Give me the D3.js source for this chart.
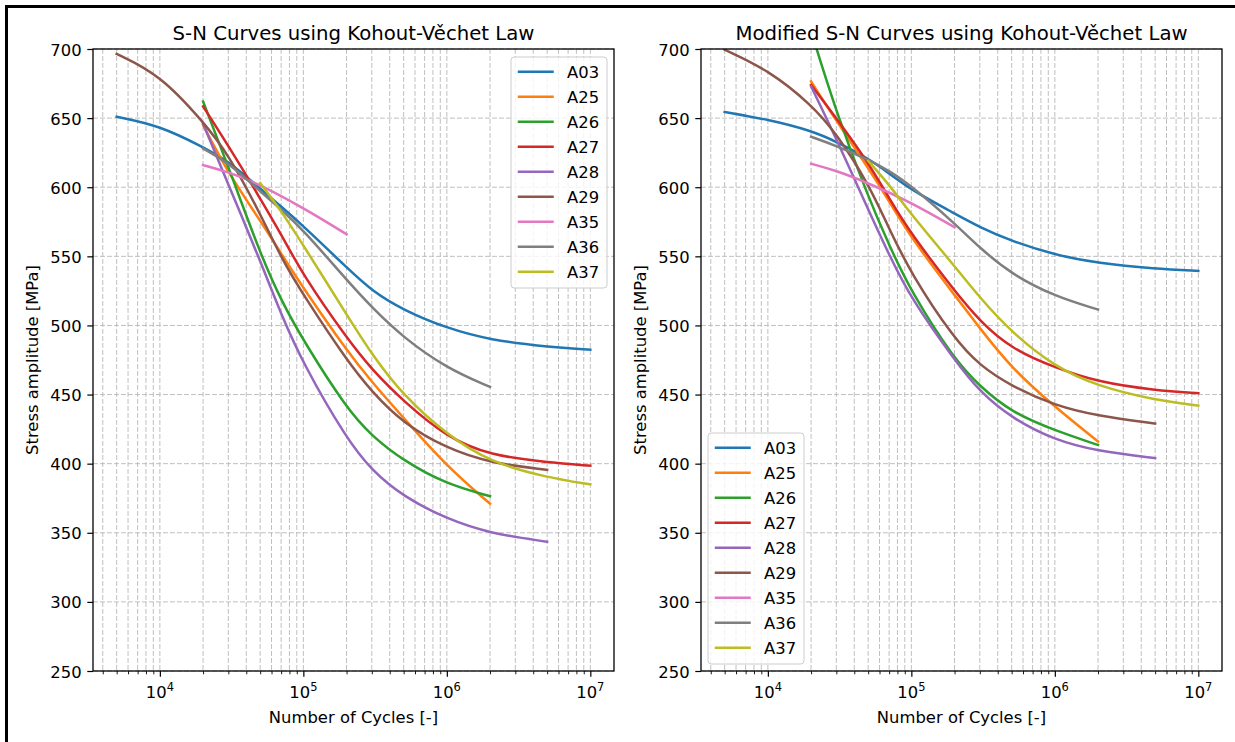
<!DOCTYPE html>
<html><head><meta charset="utf-8">
<script src="https://cdn.jsdelivr.net/npm/d3@7"></script>
<style>
body{margin:0;background:#fff;}
svg{display:block;font-family:"DejaVu Sans",sans-serif;}
</style>
</head><body>
<svg id="chart" width="1235" height="742"></svg>
<script>
// ---------------- data ----------------
const seriesNames = ["A03","A25","A26","A27","A28","A29","A35","A36","A37"];
const seriesColors = ["#1f77b4","#ff7f0e","#2ca02c","#d62728","#9467bd","#8c564b","#e377c2","#7f7f7f","#bcbd22"];
const xTickValues = [1e4, 1e5, 1e6, 1e7];
const xTickExponents = ["4","5","6","7"];
const yTickValues = [250, 300, 350, 400, 450, 500, 550, 600, 650, 700];
const panelTitles = ["S-N Curves using Kohout-Věchet Law", "Modified S-N Curves using Kohout-Věchet Law"];
const xAxisLabel = "Number of Cycles [-]";
const yAxisLabel = "Stress amplitude [MPa]";

// left panel: [cycles, stress amplitude]
const left_A03 = [[5e3,651],[1e4,644.5],[2e4,629],[3e4,619],[5e4,599],[7e4,586],[1e5,572],[2e5,542],[3e5,525],[5e5,511],[1e6,498],[2e6,489.5],[5e6,484.5],[1e7,482.5]];
const left_A25 = [[2e4,645],[3e4,610],[5e4,576],[7e4,552],[1e5,527],[2e5,482],[3e5,459],[5e5,433],[1e6,398],[2e6,371]];
const left_A26 = [[2e4,662],[3e4,615],[5e4,552],[7e4,518],[1e5,489],[2e5,440],[3e5,420],[5e5,402],[1e6,385],[2e6,376.5]];
const left_A27 = [[2e4,658.5],[3e4,630],[5e4,592],[7e4,566],[1e5,536],[2e5,491],[3e5,468],[5e5,445],[1e6,419],[2e6,406],[5e6,401],[1e7,398.5]];
const left_A28 = [[2e4,646],[3e4,602],[5e4,547],[7e4,508],[1e5,472],[2e5,418],[3e5,395],[5e5,376],[1e6,360],[2e6,349.5],[5e6,343.5]];
const left_A29 = [[5e3,696.5],[1e4,681.5],[2e4,647.5],[3e4,624],[5e4,581],[7e4,549],[1e5,522],[2e5,475],[3e5,452],[5e5,429],[1e6,411],[2e6,400.5],[5e6,395.5]];
const left_A35 = [[2e4,616],[3e4,611],[5e4,602],[1e5,585],[2e5,566]];
const left_A36 = [[2e4,628],[3e4,618],[5e4,597],[7e4,584],[1e5,569],[2e5,533],[3e5,513],[5e5,491],[1e6,469],[2e6,455.5]];
const left_A37 = [[5e4,603],[7e4,583],[1e5,558],[2e5,508],[3e5,479],[5e5,449],[1e6,421],[2e6,401],[5e6,390],[1e7,385]];

// right panel (modified)
const right_A03 = [[5e3,654.5],[1e4,649],[2e4,641],[3e4,633],[5e4,621],[7e4,610],[1e5,598],[2e5,581],[3e5,571],[5e5,561],[1e6,551],[2e6,545],[5e6,541],[1e7,539.5]];
const right_A25 = [[2e4,676.5],[3e4,648],[5e4,614],[7e4,590],[1e5,563],[2e5,522],[3e5,498],[5e5,469],[1e6,441],[2e6,416]];
const right_A26 = [[2e4,713],[3e4,654],[5e4,593],[7e4,558],[1e5,524],[2e5,475],[3e5,456],[5e5,437],[1e6,424],[2e6,413.5]];
const right_A27 = [[2e4,674],[3e4,650],[5e4,618],[7e4,592],[1e5,566],[2e5,525],[3e5,503],[5e5,483],[1e6,469.5],[2e6,459],[5e6,453],[1e7,451]];
const right_A28 = [[2e4,673],[3e4,635],[5e4,584],[7e4,551],[1e5,519],[2e5,475],[3e5,452],[5e5,433],[1e6,417],[2e6,409],[5e6,404]];
const right_A29 = [[5e3,699.5],[1e4,685],[2e4,660],[3e4,639],[5e4,603],[7e4,570],[1e5,537],[2e5,490],[3e5,471],[5e5,456],[1e6,442],[2e6,434.5],[5e6,429]];
const right_A35 = [[2e4,617],[3e4,612],[5e4,603],[1e5,589],[2e5,571]];
const right_A36 = [[2e4,636.5],[3e4,630],[5e4,620],[7e4,612],[1e5,601],[2e5,574],[3e5,556],[5e5,537],[1e6,521],[2e6,511.5]];
const right_A37 = [[5e4,619],[7e4,602],[1e5,580],[2e5,543],[3e5,520],[5e5,495],[1e6,470],[2e6,456],[5e6,446],[1e7,442]];

const leftSeries  = [left_A03,left_A25,left_A26,left_A27,left_A28,left_A29,left_A35,left_A36,left_A37];
const rightSeries = [right_A03,right_A25,right_A26,right_A27,right_A28,right_A29,right_A35,right_A36,right_A37];

// ---------------- layout ----------------
const svg = d3.select("#chart");
const TOP = 49, BOTTOM = 671;
const panels = [
  {x0: 93,  x1: 614, series: leftSeries,  title: panelTitles[0], legend: "topright"},
  {x0: 701, x1: 1222, series: rightSeries, title: panelTitles[1], legend: "bottomleft"}
];
const FS = 16.4, TFS = 19.7;

// figure frame (top & left)
svg.append("path").attr("d","M6.5,742 V6.5 H1235").attr("fill","none").attr("stroke","#000").attr("stroke-width",3);

panels.forEach((p, pi) => {
  const x = d3.scaleLog().domain([Math.pow(10,3.534), Math.pow(10,7.165)]).range([p.x0, p.x1]);
  const y = d3.scaleLinear().domain([250, 700]).range([BOTTOM, TOP]);
  const g = svg.append("g");

  const minor = [];
  for (let d = 3; d <= 7; d++) for (let k = 2; k <= 9; k++) {
    const v = k * Math.pow(10, d);
    if (v >= x.domain()[0] && v <= x.domain()[1]) minor.push(v);
  }

  // grid
  const grid = g.append("g").attr("stroke","#b8b8b8").attr("stroke-width",0.9).attr("stroke-dasharray","4.9,2.1");
  minor.concat(xTickValues).forEach(v => {
    grid.append("line").attr("x1",x(v)).attr("x2",x(v)).attr("y1",TOP).attr("y2",BOTTOM);
  });
  yTickValues.forEach(v => {
    grid.append("line").attr("x1",p.x0).attr("x2",p.x1).attr("y1",y(v)).attr("y2",y(v));
  });

  const cid = "clip" + pi;
  svg.append("clipPath").attr("id",cid).append("rect")
    .attr("x",p.x0).attr("y",TOP).attr("width",p.x1-p.x0).attr("height",BOTTOM-TOP);

  const line = d3.line().x(d => x(d[0])).y(d => y(d[1])).curve(d3.curveBasis);
  const lines = g.append("g").attr("clip-path",`url(#${cid})`);
  p.series.forEach((s, i) => {
    lines.append("path").attr("d", line(s)).attr("fill","none")
      .attr("stroke", seriesColors[i]).attr("stroke-width",2.5)
      .attr("stroke-linecap","square").attr("stroke-linejoin","round");
  });

  // axes
  const xAxisG = g.append("g").attr("transform",`translate(0,${BOTTOM})`)
    .call(d3.axisBottom(x).tickValues(xTickValues).tickSize(5.7).tickFormat(() => ""));
  const xMinorG = g.append("g").attr("transform",`translate(0,${BOTTOM})`)
    .call(d3.axisBottom(x).tickValues(minor).tickSize(3.3).tickFormat(() => ""));
  const yAxisG = g.append("g").attr("transform",`translate(${p.x0},0)`)
    .call(d3.axisLeft(y).tickValues(yTickValues).tickSize(5.7).tickFormat(d3.format("d")));
  [xAxisG, xMinorG, yAxisG].forEach(a => {
    a.select(".domain").remove();
    a.selectAll(".tick line").attr("stroke","#000").attr("stroke-width",1.2);
  });
  xMinorG.selectAll(".tick line").attr("stroke-width",0.9);
  yAxisG.selectAll(".tick text").attr("font-size",FS).attr("fill","#000")
    .attr("font-family","DejaVu Sans").attr("x",-11.4).attr("dy",null).attr("y",6);

  xTickValues.forEach((v, i) => {
    const t = g.append("text").attr("x", x(v)).attr("y", 698).attr("text-anchor","middle")
      .attr("font-size", FS).attr("fill","#000");
    t.append("tspan").text("10");
    t.append("tspan").attr("font-size", FS*0.7).attr("dy", -7).text(xTickExponents[i]);
  });

  g.append("rect").attr("x",p.x0).attr("y",TOP).attr("width",p.x1-p.x0).attr("height",BOTTOM-TOP)
    .attr("fill","none").attr("stroke","#000").attr("stroke-width",1.3);

  const cx = (p.x0 + p.x1) / 2;
  g.append("text").attr("x",cx).attr("y",39.5).attr("text-anchor","middle")
    .attr("font-size",TFS).attr("fill","#000").text(p.title);
  g.append("text").attr("x",cx).attr("y",723).attr("text-anchor","middle")
    .attr("font-size",FS).attr("fill","#000").text(xAxisLabel);
  const ylx = p.x0 - 55;
  g.append("text").attr("transform",`translate(${ylx},${(TOP+BOTTOM)/2}) rotate(-90)`)
    .attr("text-anchor","middle").attr("font-size",FS).attr("fill","#000").text(yAxisLabel);

  // legend
  const LW = 96, LH = 231;
  const lx = p.legend === "topright" ? p.x1 - 7 - LW : p.x0 + 7;
  const ly = p.legend === "topright" ? TOP + 8 : BOTTOM - 7 - LH;
  const lg = g.append("g").attr("transform",`translate(${lx},${ly})`);
  lg.append("rect").attr("width",LW).attr("height",LH).attr("rx",3.3)
    .attr("fill","#fff").attr("fill-opacity",0.8).attr("stroke","#cccccc").attr("stroke-width",1);
  seriesNames.forEach((n, i) => {
    const ry = 14.7 + i * 25;
    lg.append("line").attr("x1",8).attr("x2",41.5).attr("y1",ry).attr("y2",ry)
      .attr("stroke",seriesColors[i]).attr("stroke-width",2.5).attr("stroke-linecap","square");
    lg.append("text").attr("x",56).attr("y",ry+6).attr("font-size",FS).attr("fill","#000").text(n);
  });
});
</script>
</body></html>
